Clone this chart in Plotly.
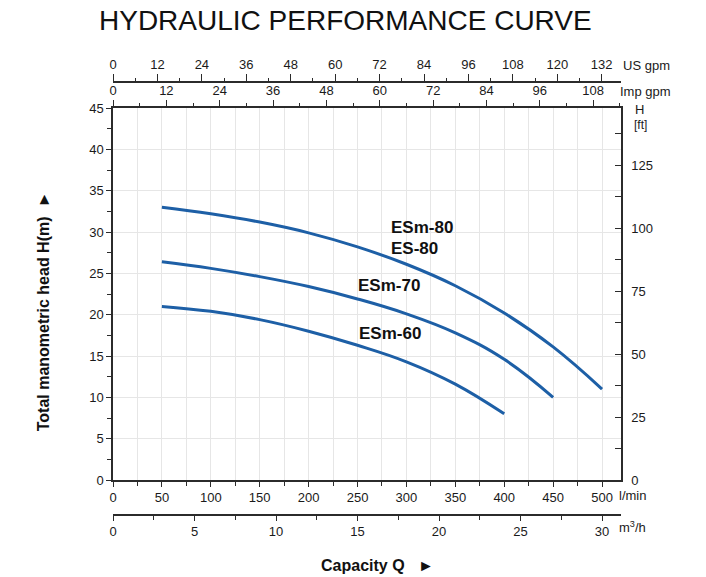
import plotly.graph_objects as go

# ---- data ----
flow_lpm = [50, 100, 150, 200, 250, 300, 350, 400, 450, 500]
head_esm80 = [33.0, 32.2, 31.2, 29.9, 28.2, 26.1, 23.5, 20.2, 16.1, 11.0]
flow_esm70 = [50, 100, 150, 200, 250, 300, 350, 400, 450]
head_esm70 = [26.4, 25.6, 24.6, 23.4, 21.9, 20.1, 17.8, 14.6, 10.0]
flow_esm60 = [50, 100, 150, 200, 250, 300, 350, 400]
head_esm60 = [21.0, 20.4, 19.4, 18.0, 16.3, 14.3, 11.6, 8.0]

curve_labels = [("ESm-80", 282, 30.5), ("ES-80", 282, 28.05),
                ("ESm-70", 248, 23.5), ("ESm-60", 249, 17.7)]

X_MAX = 519.4          # l/min
Y_MAX = 45             # m
LPM_PER_M3H = 1000 / 60
LPM_PER_IMP = 4.54609
LPM_PER_US = 3.78541
FT_PER_M = 3.28084

# ---- layout geometry (pixels) ----
FW, FH = 706, 577
ML, MR, MT, MB = 112.7, 85.3, 82, 62
PW = FW - ML - MR
PH = FH - MT - MB
PLOT_TOP, PLOT_BOT = 108, 480


def pxx(x):
    return (x - ML) / PW


def pxy(y):
    return (FH - MB - y) / PH


FONT = "Arial, Liberation Sans, sans-serif"
TXT = "#1a1a1a"
AX = "#2b2b2b"
BLUE = "#1d5fa6"
GRID = "#e6e6e6"

fig = go.Figure()
for xs, ys in [(flow_lpm, head_esm80), (flow_esm70, head_esm70), (flow_esm60, head_esm60)]:
    fig.add_trace(go.Scatter(x=xs, y=ys, mode="lines",
                             line=dict(color=BLUE, width=3, shape="spline", smoothing=1.2),
                             xaxis="x", yaxis="y", showlegend=False, hoverinfo="skip"))

# invisible traces to activate secondary axes
for xa in ["x2", "x3", "x4"]:
    fig.add_trace(go.Scatter(x=[0], y=[0], mode="markers", marker=dict(opacity=0),
                             xaxis=xa, yaxis="y", showlegend=False, hoverinfo="skip"))
fig.add_trace(go.Scatter(x=[0], y=[0], mode="markers", marker=dict(opacity=0),
                         xaxis="x", yaxis="y2", showlegend=False, hoverinfo="skip"))

tickfont = dict(family=FONT, size=13, color=TXT)
ydom = [pxy(PLOT_BOT), pxy(PLOT_TOP)]

fig.update_layout(
    width=FW, height=FH,
    margin=dict(l=ML, r=MR, t=MT, b=MB, pad=0),
    paper_bgcolor="white", plot_bgcolor="white",
    showlegend=False,
    xaxis=dict(range=[0, X_MAX], anchor="y", side="bottom", tick0=0, dtick=50,
               showgrid=True, gridcolor=GRID, gridwidth=1, zeroline=False,
               showline=True, linecolor=AX, linewidth=1.5,
               ticks="outside", ticklen=5, tickwidth=1.2, tickcolor=AX, tickfont=tickfont,
               minor=dict(dtick=25, tick0=0, ticks="outside", ticklen=4, tickcolor=AX,
                          showgrid=True, gridcolor=GRID, gridwidth=1)),
    xaxis2=dict(range=[0, X_MAX / LPM_PER_M3H], overlaying="x", anchor="free", position=0,
                side="bottom", tick0=0, dtick=5, showgrid=False, zeroline=False,
                showline=True, linecolor=AX, linewidth=1.5,
                ticks="outside", ticklen=5, tickwidth=1.2, tickcolor=AX, tickfont=tickfont,
                minor=dict(dtick=2.5, tick0=0, ticks="outside", ticklen=4, tickcolor=AX)),
    xaxis3=dict(range=[0, X_MAX / LPM_PER_IMP], overlaying="x", anchor="y", side="top",
                tick0=0, dtick=12, showgrid=False, zeroline=False,
                showline=True, linecolor=AX, linewidth=1.5,
                ticks="outside", ticklen=6, tickwidth=1.2, tickcolor=AX, tickfont=tickfont,
                minor=dict(dtick=6, tick0=0, ticks="outside", ticklen=3, tickcolor=AX)),
    xaxis4=dict(range=[0, X_MAX / LPM_PER_US], overlaying="x", anchor="free", position=1,
                side="top", tick0=0, dtick=12, showgrid=False, zeroline=False,
                showline=True, linecolor=AX, linewidth=1.5,
                ticks="outside", ticklen=7, tickwidth=1.2, tickcolor=AX, tickfont=tickfont,
                minor=dict(dtick=6, tick0=0, ticks="outside", ticklen=3, tickcolor=AX)),
    yaxis=dict(range=[0, Y_MAX], domain=ydom, anchor="x", side="left", tick0=0, dtick=5,
               showgrid=True, gridcolor=GRID, gridwidth=1, zeroline=False,
               showline=True, linecolor=AX, linewidth=1.5,
               ticks="outside", ticklen=5, tickwidth=1.2, tickcolor=AX, tickfont=tickfont,
               minor=dict(dtick=2.5, tick0=0, ticks="outside", ticklen=4, tickcolor=AX)),
    yaxis2=dict(range=[0, Y_MAX * FT_PER_M], overlaying="y", anchor="x", side="right",
                tick0=0, dtick=25, showgrid=False, zeroline=False,
                showline=True, linecolor=AX, linewidth=1.5, ticklabelstandoff=6,
                ticks="inside", ticklen=6, tickwidth=1.2, tickcolor=AX, tickfont=tickfont,
                minor=dict(dtick=12.5, tick0=0, ticks="inside", ticklen=6, tickcolor=AX)),
)

ann = []
ann.append(dict(text="HYDRAULIC PERFORMANCE CURVE", x=pxx(345), y=pxy(20), xref="paper", yref="paper",
                xanchor="center", yanchor="middle", showarrow=False,
                font=dict(family=FONT, size=28, color="#111111")))
ann.append(dict(text="<b>Total manometric head H(m)  ►</b>", x=pxx(43), y=pxy(311), xref="paper",
                yref="paper", textangle=-90, xanchor="center", yanchor="middle", showarrow=False,
                font=dict(family=FONT, size=16, color="#111111")))
ann.append(dict(text="<b>Capacity Q   ►</b>", x=pxx(377), y=pxy(565), xref="paper", yref="paper",
                xanchor="center", yanchor="middle", showarrow=False,
                font=dict(family=FONT, size=16, color="#111111")))
for txt, xx, yy in [("US gpm", 621, 65), ("Imp gpm", 618, 91), ("l/min", 617, 495), ("m<sup>3</sup>/h", 617, 527)]:
    ann.append(dict(text=txt, x=pxx(xx), y=pxy(yy), xref="paper", yref="paper",
                    xanchor="left", yanchor="middle", showarrow=False,
                    font=dict(family=FONT, size=13, color=TXT)))
ann.append(dict(text="H", x=pxx(633), y=pxy(110), xref="paper", yref="paper",
                xanchor="left", yanchor="middle", showarrow=False, font=dict(family=FONT, size=13, color=TXT)))
ann.append(dict(text="[ft]", x=pxx(632), y=pxy(125), xref="paper", yref="paper",
                xanchor="left", yanchor="middle", showarrow=False, font=dict(family=FONT, size=12, color=TXT)))
for txt, xx, yy in curve_labels:
    ann.append(dict(text="<b>" + txt + "</b>", x=xx, y=yy, xref="x", yref="y",
                    xanchor="left", yanchor="middle", showarrow=False,
                    font=dict(family=FONT, size=17, color="#111111")))
fig.update_layout(annotations=ann)

fig.write_html("out.html")
